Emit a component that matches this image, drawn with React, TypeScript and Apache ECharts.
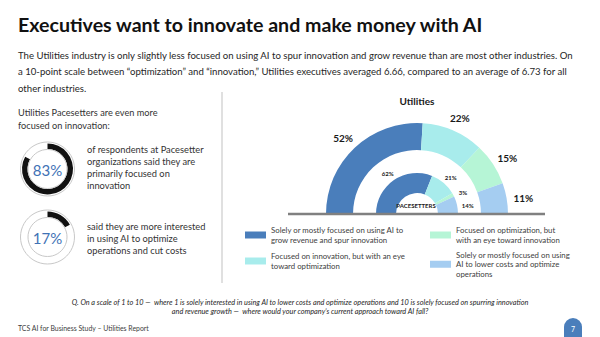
import React, { useEffect, useRef } from "react";
import * as echarts from "echarts";

const categories = [
  "Solely or mostly focused on using AI to grow revenue and spur innovation",
  "Focused on innovation, but with an eye toward optimization",
  "Focused on optimization, but with an eye toward innovation",
  "Solely or mostly focused on using AI to lower costs and optimize operations",
];
const legendLines = [
  "Solely or mostly focused on using AI to\ngrow revenue and spur innovation",
  "Focused on innovation, but with an eye\ntoward optimization",
  "Focused on optimization, but\nwith an eye toward innovation",
  "Solely or mostly focused on using\nAI to lower costs and optimize\noperations",
];
const segmentColors = ["#4a7ebb", "#a8ecec", "#b6f5d6", "#a5cdf1"];
const utilitiesValues = [52, 22, 15, 11];
const pacesetterValues = [62, 21, 3, 14];
const pacesetterInnovation = 83;
const pacesetterOptimize = 17;

const titleText = "Executives want to innovate and make money with AI";
const bodyLines = [
  "The Utilities industry is only slightly less focused on using AI to spur innovation and grow revenue than are most other industries. On",
  "a 10-point scale between \u201coptimization\u201d and \u201cinnovation,\u201d Utilities executives averaged 6.66, compared to an average of 6.73 for all",
  "other industries.",
];
const leftIntro = "Utilities Pacesetters are even more\nfocused on innovation:";
const ring1Text = "of respondents at Pacesetter\norganizations said they are\nprimarily focused on\ninnovation";
const ring2Text = "said they are more interested\nin using AI to optimize\noperations and cut costs";
const questionLines = [
  "Q. On a scale of 1 to 10 \u2014  where 1 is solely interested in using AI to lower costs and optimize operations and 10 is solely focused on spurring innovation",
  "and revenue growth \u2014  where would your company\u2019s current approach toward AI fall?",
];
const footerText = "TCS AI for Business Study \u2013 Utilities Report";
const pageNumber = "7";

const FONT = "Lato, 'Noto Sans', sans-serif";

export default function App() {
  const ref = useRef<HTMLDivElement>(null);
  useEffect(() => {
    if (!ref.current) return;
    const chart = echarts.init(ref.current, null, { renderer: "svg" });

    const donutCenter = [417, 214];
    const labelCenter = [417, 217];
    const mkData = (vals: number[]) =>
      vals.map((v, i) => ({ name: categories[i], value: v, itemStyle: { color: segmentColors[i] } }));
    const ghostData = (vals: number[]) =>
      vals.map((v, i) => ({ name: categories[i], value: v, itemStyle: { color: "rgba(0,0,0,0)" } }));

    const semi = { startAngle: 180, endAngle: 0, clockwise: true };

    const gaugeSeries = (val: number, cy: number, nm: string) => ({
      type: "pie",
      name: nm,
      center: [47.5, cy],
      radius: [20, 25.5],
      startAngle: 90,
      clockwise: true,
      silent: true,
      label: { show: false },
      labelLine: { show: false },
      data: [
        { name: nm + "-on", value: val, itemStyle: { color: "#111111" } },
        { name: nm + "-off", value: 100 - val, itemStyle: { color: "rgba(0,0,0,0)" } },
      ],
    });

    const legends = [
      { idx: 0, left: 245, top: 225.5 },
      { idx: 1, left: 245, top: 251.5 },
      { idx: 2, left: 430, top: 225.5 },
      { idx: 3, left: 430, top: 250 },
    ].map((l) => ({
      data: [categories[l.idx]],
      left: l.left,
      top: l.top,
      orient: "vertical",
      padding: 0,
      itemWidth: 21,
      itemHeight: 7,
      icon: "rect",
      selectedMode: false,
      formatter: (name: string) => legendLines[categories.indexOf(name)],
      textStyle: { fontSize: 7.8, lineHeight: 9.5, color: "#404040", fontFamily: FONT },
    }));

    const txt = (x: number, y: number, text: string, font: string, fill: string, extra: any = {}) => ({
      type: "text",
      x,
      y,
      z: 50,
      silent: true,
      style: { text, font, fill, textVerticalAlign: "middle", ...extra },
    });

    const option: any = {
      animation: false,
      backgroundColor: "#ffffff",
      textStyle: { fontFamily: FONT },
      legend: legends,
      series: [
        {
          type: "pie",
          name: "Utilities",
          center: donutCenter,
          radius: [64, 91],
          ...semi,
          silent: true,
          label: { show: false },
          labelLine: { show: false },
          data: mkData(utilitiesValues),
        },
        {
          type: "pie",
          name: "Pacesetters",
          center: donutCenter,
          radius: [21, 41],
          ...semi,
          silent: true,
          label: { show: false },
          labelLine: { show: false },
          data: mkData(pacesetterValues),
        },
        {
          type: "pie",
          name: "UtilitiesLabels",
          center: labelCenter,
          radius: [97, 113],
          ...semi,
          silent: true,
          label: {
            show: true,
            position: "inside",
            formatter: "{c}%",
            fontSize: 10,
            fontWeight: "bold",
            color: "#1a1a1a",
            fontFamily: FONT,
          },
          labelLine: { show: false },
          data: ghostData(utilitiesValues),
        },
        {
          type: "pie",
          name: "PacesetterLabels",
          center: labelCenter,
          radius: [44, 54],
          ...semi,
          silent: true,
          label: {
            show: true,
            position: "inside",
            formatter: "{c}%",
            fontSize: 6,
            fontWeight: "bold",
            color: "#1a1a1a",
            fontFamily: FONT,
          },
          labelLine: { show: false },
          data: ghostData(pacesetterValues),
        },
        gaugeSeries(pacesetterInnovation, 169, "g1"),
        gaugeSeries(pacesetterOptimize, 237, "g2"),
      ],
      graphic: [
        txt(18, 24.5, titleText, `bold 19.6px ${FONT}`, "#111111"),
        ...bodyLines.map((l, i) => txt(18, 55 + i * 16.5, l, `9.6px ${FONT}`, "#262626")),
        txt(18, 119, leftIntro, `9.2px ${FONT}`, "#333333", { lineHeight: 12.5 }),
        txt(87, 167, ring1Text, `9.3px ${FONT}`, "#333333", { lineHeight: 12 }),
        txt(87, 238, ring2Text, `9.3px ${FONT}`, "#333333", { lineHeight: 12 }),
        txt(47.5, 170, `${pacesetterInnovation}%`, `15px ${FONT}`, "#3f72b5", { textAlign: "center" }),
        txt(47.5, 238, `${pacesetterOptimize}%`, `15px ${FONT}`, "#3f72b5", { textAlign: "center" }),
        ...[169, 237].flatMap((cy) => [
          { type: "circle", z: 40, silent: true, shape: { cx: 47.5, cy, r: 27 }, style: { fill: "none", stroke: "#c8c8c8", lineWidth: 1 } },
          { type: "circle", z: 40, silent: true, shape: { cx: 47.5, cy, r: 19.5 }, style: { fill: "none", stroke: "#c8c8c8", lineWidth: 1 } },
        ]),
        { type: "line", z: 40, silent: true, shape: { x1: 222, y1: 92, x2: 222, y2: 283 }, style: { stroke: "#d6d6d6", lineWidth: 1.5 } },
        { type: "line", z: 60, silent: true, shape: { x1: 288, y1: 214, x2: 545, y2: 214 }, style: { stroke: "#808080", lineWidth: 2.5 } },
        txt(417, 101, "Utilities", `bold 10px ${FONT}`, "#1a1a1a", { textAlign: "center" }),
        txt(416, 205, "PACESETTERS", `bold 6px ${FONT}`, "#1a1a1a", { textAlign: "center" }),
        ...questionLines.map((l, i) =>
          txt(300, 302 + i * 9, l, `italic 7.3px ${FONT}`, "#262626", { textAlign: "center" })
        ),
        txt(18, 328, footerText, `6.9px ${FONT}`, "#404040"),
        { type: "rect", z: 40, silent: true, shape: { x: 564, y: 318, width: 18, height: 19, r: [9, 9, 0, 0] }, style: { fill: "#4a7ebb" } },
        txt(573, 329, pageNumber, `7px ${FONT}`, "#ffffff", { textAlign: "center" }),
      ],
    };
    chart.setOption(option);
    return () => chart.dispose();
  }, []);
  return (
    <div
      ref={ref}
      style={{ position: "absolute", left: 0, top: 0, width: 600, height: 337, background: "#fff" }}
    />
  );
}
